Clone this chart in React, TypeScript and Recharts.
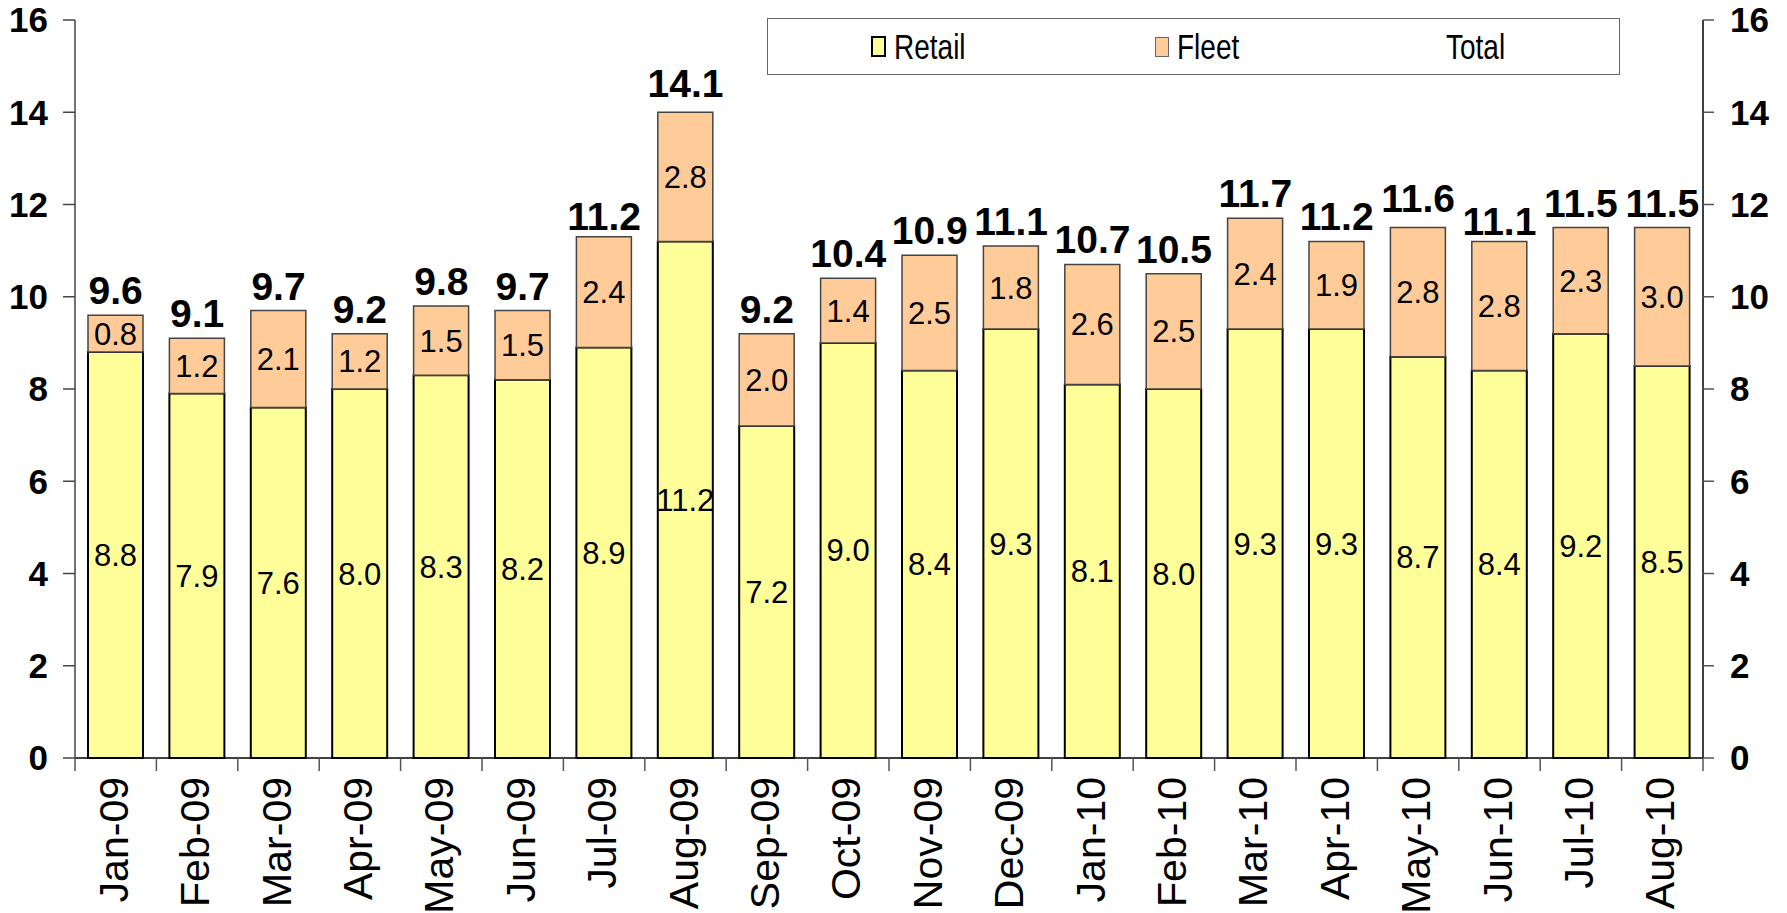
import { Bar, ComposedChart, LabelList, Legend, Line, XAxis, YAxis } from "recharts";

const months = [
  "Jan-09", "Feb-09", "Mar-09", "Apr-09", "May-09", "Jun-09", "Jul-09", "Aug-09", "Sep-09", "Oct-09",
  "Nov-09", "Dec-09", "Jan-10", "Feb-10", "Mar-10", "Apr-10", "May-10", "Jun-10", "Jul-10", "Aug-10",
];
const retail = [8.8, 7.9, 7.6, 8.0, 8.3, 8.2, 8.9, 11.2, 7.2, 9.0, 8.4, 9.3, 8.1, 8.0, 9.3, 9.3, 8.7, 8.4, 9.2, 8.5];
const fleet = [0.8, 1.2, 2.1, 1.2, 1.5, 1.5, 2.4, 2.8, 2.0, 1.4, 2.5, 1.8, 2.6, 2.5, 2.4, 1.9, 2.8, 2.8, 2.3, 3.0];
const total = [9.6, 9.1, 9.7, 9.2, 9.8, 9.7, 11.2, 14.1, 9.2, 10.4, 10.9, 11.1, 10.7, 10.5, 11.7, 11.2, 11.6, 11.1, 11.5, 11.5];
const yTicks = [0, 2, 4, 6, 8, 10, 12, 14, 16];

const W = 1787;
const H = 913;
const LEFT = 75;
const RIGHT = 84;
const FONT = "'Liberation Sans', Arial, sans-serif";
const BAND = (W - LEFT - RIGHT) / months.length;

const data = months.map((month, i) => ({ month, retail: retail[i], fleet: fleet[i], total: total[i] }));

function MonthTick(props: any) {
  const { x, y, payload, index } = props;
  return (
    <g>
      <line x1={x - BAND / 2} x2={x - BAND / 2} y1={y} y2={y + 13} stroke="#555" strokeWidth={1.5} />
      {index === months.length - 1 && (
        <line x1={x + BAND / 2} x2={x + BAND / 2} y1={y} y2={y + 13} stroke="#555" strokeWidth={1.5} />
      )}
      <g transform={`translate(${x},${y + 19}) rotate(-90)`}>
        <text x={0} y={0} dy={12} textAnchor="end" fontSize={41} fontFamily={FONT} fill="#000">
          {payload.value}
        </text>
      </g>
    </g>
  );
}

function ChartLegend() {
  const text = {
    fontFamily: FONT,
    fontSize: 35,
    color: "#000",
    display: "inline-block",
    transform: "scaleX(0.8)",
    transformOrigin: "left center",
    whiteSpace: "nowrap",
  } as const;
  const item = { width: 290, display: "flex", alignItems: "center", justifyContent: "center" } as const;
  return (
    <div
      style={{
        boxSizing: "border-box",
        width: 853,
        height: 57,
        border: "1.5px solid #666",
        background: "#fff",
        display: "flex",
        alignItems: "center",
        paddingLeft: 10,
      }}
    >
      <div style={item}>
        <span style={{ width: 11, height: 17, background: "#FFFF99", border: "2px solid #000", marginRight: 8 }} />
        <span style={{ ...text, width: 72 }}>Retail</span>
      </div>
      <div style={item}>
        <span style={{ width: 12, height: 18, background: "#FFCC99", border: "1.5px solid #666", marginRight: 8 }} />
        <span style={{ ...text, width: 64 }}>Fleet</span>
      </div>
      <div style={item}>
        <span style={{ ...text, width: 66 }}>Total</span>
      </div>
    </div>
  );
}

export default function App() {
  const axisTick = { fontSize: 35, fontWeight: 700, fill: "#000", fontFamily: FONT };
  return (
    <div style={{ position: "absolute", left: 0, top: 0, width: W, height: H, background: "#fff" }}>
      <ComposedChart width={W} height={H} data={data} margin={{ top: 20, right: 0, bottom: 0, left: 0 }}>
        <XAxis
          dataKey="month"
          height={155}
          interval={0}
          tickSize={0}
          tickMargin={0}
          tick={<MonthTick />}
          axisLine={{ stroke: "#000", strokeWidth: 1.5 }}
        />
        <YAxis
          yAxisId="left"
          width={LEFT}
          domain={[0, 16]}
          ticks={yTicks}
          tickSize={12}
          tickMargin={15}
          tick={axisTick}
          axisLine={{ stroke: "#444", strokeWidth: 1.5 }}
          tickLine={{ stroke: "#444", strokeWidth: 1.5 }}
        />
        <YAxis
          yAxisId="right"
          orientation="right"
          width={RIGHT}
          domain={[0, 16]}
          ticks={yTicks}
          tickSize={11}
          tickMargin={16}
          tick={axisTick}
          axisLine={{ stroke: "#000", strokeWidth: 1.5 }}
          tickLine={{ stroke: "#555", strokeWidth: 1.5 }}
        />
        <Legend
          layout="horizontal"
          verticalAlign="middle"
          align="center"
          wrapperStyle={{ top: 18, left: 767, width: 853, height: 57 }}
          content={<ChartLegend />}
        />
        <Bar
          yAxisId="left"
          dataKey="retail"
          name="Retail"
          stackId="a"
          barSize={55}
          fill="#FFFF99"
          stroke="#000"
          strokeWidth={2}
          isAnimationActive={false}
        >
          <LabelList
            dataKey="retail"
            position="center"
            formatter={(v: any) => Number(v).toFixed(1)}
            style={{ fontSize: 31, fill: "#000", fontFamily: FONT }}
          />
        </Bar>
        <Bar
          yAxisId="left"
          dataKey="fleet"
          name="Fleet"
          stackId="a"
          barSize={55}
          fill="#FFCC99"
          stroke="#444"
          strokeWidth={1.5}
          isAnimationActive={false}
        >
          <LabelList
            dataKey="fleet"
            position="center"
            formatter={(v: any) => Number(v).toFixed(1)}
            style={{ fontSize: 31, fill: "#000", fontFamily: FONT }}
          />
        </Bar>
        <Line
          yAxisId="right"
          dataKey="total"
          name="Total"
          stroke="none"
          dot={false}
          activeDot={false}
          isAnimationActive={false}
        >
          <LabelList
            dataKey="total"
            position="top"
            offset={11}
            formatter={(v: any) => Number(v).toFixed(1)}
            style={{ fontSize: 39, fontWeight: 700, fill: "#000", fontFamily: FONT }}
          />
        </Line>
      </ComposedChart>
    </div>
  );
}
